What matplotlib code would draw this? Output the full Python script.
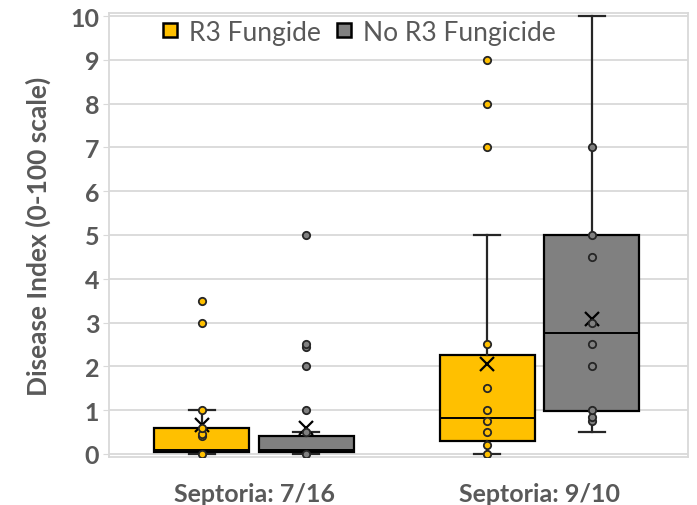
import numpy as np
import matplotlib
matplotlib.use('Agg')
import matplotlib.pyplot as plt
from matplotlib.lines import Line2D

plt.rcParams['font.family'] = ['Lato', 'DejaVu Sans']

# categories and series
groups = ['Septoria: 7/16', 'Septoria: 9/10']
series = ['R3 Fungide', 'No R3 Fungicide']
colors = ['#FFC000', '#808080']

# box statistics: [7/16, 9/10] for each series
r3_whislo = [0.0, 0.0]
r3_q1 = [0.05, 0.3]
r3_med = [0.1, 0.82]
r3_q3 = [0.6, 2.25]
r3_whishi = [1.0, 5.0]
r3_mean = [0.65, 2.05]
r3_points = [[0.0, 0.4, 0.45, 0.6, 1.0, 3.0, 3.5],
             [0.0, 0.2, 0.5, 0.75, 1.0, 1.5, 2.5, 7.0, 8.0, 9.0]]

no_whislo = [0.0, 0.5]
no_q1 = [0.05, 0.98]
no_med = [0.1, 2.75]
no_q3 = [0.4, 5.0]
no_whishi = [0.5, 10.0]
no_mean = [0.6, 3.08]
no_points = [[0.0, 0.5, 1.0, 2.0, 2.45, 2.5, 5.0],
             [0.75, 0.85, 1.0, 2.0, 2.5, 3.0, 4.5, 5.0, 7.0]]

yticks = list(range(0, 11))


def make_stats(whislo, q1, med, q3, whishi, mean):
    out = []
    for i in range(len(med)):
        out.append({'whislo': whislo[i], 'q1': q1[i], 'med': med[i],
                    'q3': q3[i], 'whishi': whishi[i], 'mean': mean[i],
                    'fliers': []})
    return out


fig = plt.figure(figsize=(6.97, 5.06), dpi=100)
ax = fig.add_axes([0.1564, 0.0949, 0.8307, 0.8775])

edge = '#262626'
offset = 0.183
width = 0.333
centers = np.arange(len(groups))

all_stats = [make_stats(r3_whislo, r3_q1, r3_med, r3_q3, r3_whishi, r3_mean),
             make_stats(no_whislo, no_q1, no_med, no_q3, no_whishi, no_mean)]
all_points = [r3_points, no_points]

for k, (stats, col) in enumerate(zip(all_stats, colors)):
    pos = centers + (k * 2 - 1) * offset
    ax.bxp(stats, positions=pos, widths=width, capwidths=0.09,
           showmeans=True, patch_artist=True, showfliers=False,
           boxprops=dict(facecolor=col, edgecolor='black', linewidth=1.6),
           whiskerprops=dict(color=edge, linewidth=1.6),
           capprops=dict(color=edge, linewidth=1.6),
           medianprops=dict(color='black', linewidth=1.4),
           meanprops=dict(marker='x', markeredgecolor='black',
                          markersize=10, markeredgewidth=1.6),
           zorder=3)
    for i, pts in enumerate(all_points[k]):
        ax.scatter(np.full(len(pts), pos[i]), pts, s=28, facecolor=col,
                   edgecolor=edge, linewidth=1.3, zorder=4)

ax.set_xlim(-0.508, 1.52)
ax.set_ylim(-0.07, 10.07)
ax.set_yticks(yticks)
ax.set_xticks(centers)
ax.set_xticklabels(groups)
ax.yaxis.grid(True, color='#d9d9d9', linewidth=1.3)
ax.set_axisbelow(True)
for s in ax.spines.values():
    s.set_color('#d9d9d9')
    s.set_linewidth(1.3)
ax.tick_params(axis='y', length=4, color='#d9d9d9', labelsize=18,
               labelcolor='#595959', pad=3)
ax.tick_params(axis='x', length=0, labelsize=18, labelcolor='#595959', pad=18)
for lab in ax.get_yticklabels() + ax.get_xticklabels():
    lab.set_fontweight('bold')

ax.set_ylabel('Disease Index (0-100 scale)', fontsize=19, fontweight='bold',
              color='#595959', labelpad=14)

handles = [Line2D([], [], linestyle='none', marker='s', markersize=10,
                  markerfacecolor=c, markeredgecolor='black',
                  markeredgewidth=1.8) for c in colors]
ax.legend(handles, series, loc='center', bbox_to_anchor=(0.427, 0.957),
          ncol=2, frameon=False, fontsize=19, labelcolor='#595959',
          handletextpad=0.2, columnspacing=0.4, handlelength=1.0)

fig.savefig('out.png', dpi=100)
